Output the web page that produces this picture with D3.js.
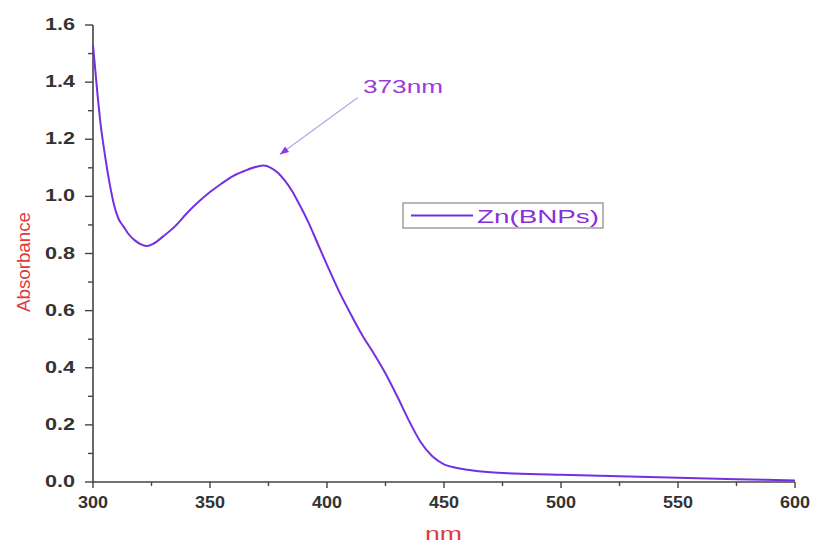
<!DOCTYPE html>
<html><head><meta charset="utf-8">
<script src="https://cdn.jsdelivr.net/npm/d3@7"></script>
<style>body{margin:0;background:#fff;} svg{display:block;}</style>
</head><body>
<svg id="c" width="817" height="545"></svg>
<script>
const wavelengths = [300,301,302,303,305,307,309,311,313,315,318,321,323,326,330,335,340,345,350,355,360,365,370,373,376,379,382,385,388,392,396,400,405,410,415,420,425,430,435,440,445,450,455,460,470,480,500,525,550,575,600];
const absorbance = [1.53,1.44,1.35,1.27,1.15,1.05,0.97,0.92,0.895,0.87,0.845,0.83,0.826,0.835,0.86,0.895,0.94,0.98,1.015,1.045,1.072,1.09,1.104,1.108,1.10,1.083,1.055,1.02,0.975,0.91,0.835,0.76,0.67,0.59,0.515,0.45,0.38,0.30,0.215,0.14,0.09,0.062,0.05,0.043,0.034,0.03,0.025,0.02,0.015,0.01,0.005];
const xTicks = [300,350,400,450,500,550,600];
const yTicks = [0.0,0.2,0.4,0.6,0.8,1.0,1.2,1.4,1.6];
const seriesName = "Zn(BNPs)";
const peakLabel = "373nm";
const peakWl = 373, peakAbs = 1.108;

const FONT = "Liberation Sans, Arial, sans-serif";
const svg = d3.select("#c");
const x = d3.scaleLinear().domain([300,600]).range([93,795]);
const y = d3.scaleLinear().domain([0,1.6]).range([482,25]);
const axisColor = "#444";
const lineColor = "#7430e0";

// x axis
const gx = svg.append("g").attr("transform","translate(0,482)");
gx.append("line").attr("x1",x(300)).attr("x2",x(600)).attr("stroke",axisColor).attr("stroke-width",1.6);
d3.range(300,601,25).forEach(v=>{
  const major = v%50===0;
  gx.append("line").attr("x1",x(v)).attr("x2",x(v)).attr("y1",0).attr("y2",major?6:4)
    .attr("stroke",axisColor).attr("stroke-width",1.4);
});
xTicks.forEach(v=>{
  gx.append("text").attr("x",x(v)-15).attr("y",26)
    .attr("font-family",FONT).attr("font-weight","bold")
    .attr("font-size",16).attr("fill","#333")
    .attr("textLength",30).attr("lengthAdjust","spacingAndGlyphs").text(v);
});

// y axis
const gy = svg.append("g").attr("transform","translate(93,0)");
gy.append("line").attr("y1",y(0)).attr("y2",y(1.6)).attr("stroke",axisColor).attr("stroke-width",1.6);
d3.range(0,17).forEach(i=>{
  const v=i/10; const major=i%2===0;
  gy.append("line").attr("x1",0).attr("x2",major?-8:-5).attr("y1",y(v)).attr("y2",y(v))
    .attr("stroke",axisColor).attr("stroke-width",1.4);
});
yTicks.forEach(v=>{
  gy.append("text").attr("x",-48).attr("y",y(v)+5)
    .attr("font-family",FONT).attr("font-weight","bold")
    .attr("font-size",16).attr("fill","#333")
    .attr("textLength",30).attr("lengthAdjust","spacingAndGlyphs").text(v.toFixed(1));
});

// axis titles
svg.append("text").attr("transform","translate(30,262) rotate(-90)").attr("text-anchor","middle")
  .attr("font-family",FONT).attr("font-size",19).attr("fill","#e03a3a")
  .attr("textLength",100).attr("lengthAdjust","spacingAndGlyphs").text("Absorbance");
svg.append("text").attr("x",425).attr("y",540)
  .attr("font-family",FONT).attr("font-size",18).attr("fill","#e03a3a")
  .attr("textLength",37).attr("lengthAdjust","spacingAndGlyphs").text("nm");

// curve
const data = wavelengths.map((w,i)=>({w, a:absorbance[i]}));
svg.append("path").datum(data)
  .attr("d", d3.line().x(d=>x(d.w)).y(d=>y(d.a)).curve(d3.curveMonotoneX))
  .attr("fill","none").attr("stroke",lineColor).attr("stroke-width",2);

// annotation arrow
const ax1 = x(peakWl)+94, ay1 = y(peakAbs)-68;
const ax2 = x(peakWl)+16, ay2 = y(peakAbs)-11;
svg.append("line").attr("x1",ax1).attr("y1",ay1).attr("x2",ax2).attr("y2",ay2)
  .attr("stroke","#b8a8e8").attr("stroke-width",1.3);
const ang = Math.atan2(ay2-ay1, ax2-ax1);
const hl=9, hw=3.5;
const bx = ax2 - hl*Math.cos(ang), by = ay2 - hl*Math.sin(ang);
svg.append("path").attr("d",`M${ax2},${ay2}L${bx - hw*Math.sin(ang)},${by + hw*Math.cos(ang)}L${bx + hw*Math.sin(ang)},${by - hw*Math.cos(ang)}Z`)
  .attr("fill","#8a3ce8");
svg.append("text").attr("x",363).attr("y",93)
  .attr("font-family",FONT).attr("font-size",18).attr("fill","#9a3ad8")
  .attr("textLength",80).attr("lengthAdjust","spacingAndGlyphs").text(peakLabel);

// legend
const lg = svg.append("g");
lg.append("rect").attr("x",403).attr("y",203).attr("width",200).attr("height",25)
  .attr("fill","#fff").attr("stroke","#888").attr("stroke-width",1.2);
lg.append("line").attr("x1",411).attr("x2",473).attr("y1",215.5).attr("y2",215.5).attr("stroke",lineColor).attr("stroke-width",2);
lg.append("text").attr("x",477).attr("y",223)
  .attr("font-family",FONT).attr("font-size",18).attr("fill","#8a30d8")
  .attr("textLength",122).attr("lengthAdjust","spacingAndGlyphs").text(seriesName);
</script>
</body></html>
